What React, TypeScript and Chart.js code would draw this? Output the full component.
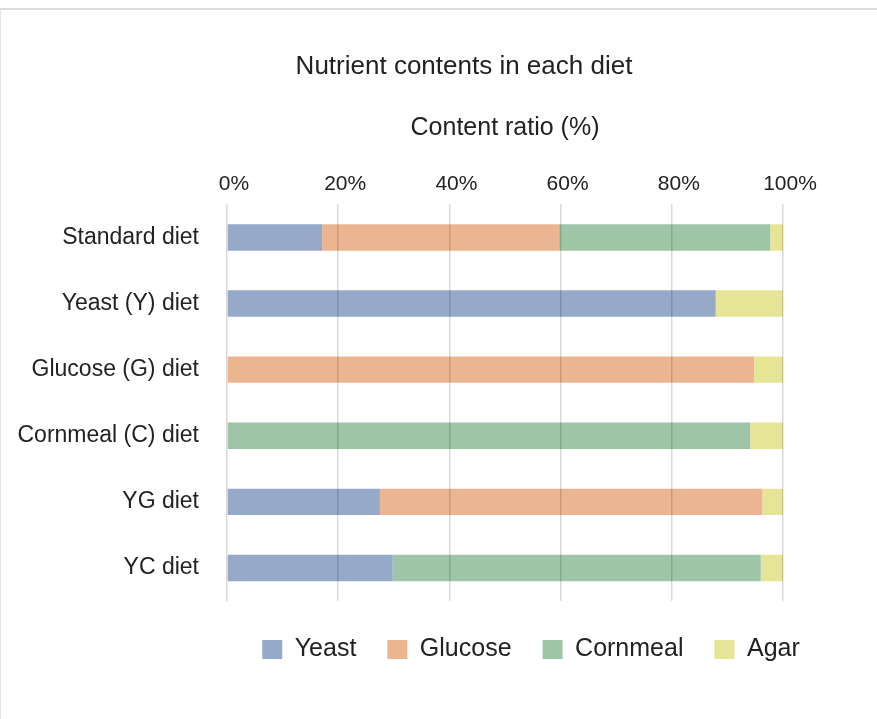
import React, { useEffect, useRef } from "react";
import { Chart, registerables } from "chart.js";

Chart.register(...registerables);

const categories = [
  "Standard diet",
  "Yeast (Y) diet",
  "Glucose (G) diet",
  "Cornmeal (C) diet",
  "YG diet",
  "YC diet",
];
const yeast = [17.1, 87.9, 0, 0, 27.5, 29.8];
const glucose = [42.6, 0, 94.8, 0, 68.8, 0];
const cornmeal = [38.0, 0, 0, 94.1, 0, 66.2];
const agar = [2.3, 12.1, 5.2, 5.9, 3.7, 4.0];
const xTicks = [0, 20, 40, 60, 80, 100];

const FONT = "Arial, 'Liberation Sans', sans-serif";
const TITLE_DX = 72;
const LEGEND_DX = 139;
const LEGEND_DY = 5;

const shiftPlugin = {
  id: "shiftBlocks",
  afterLayout(chart: any) {
    const t = chart.titleBlock;
    if (t) {
      t.left += TITLE_DX;
      t.right += TITLE_DX;
    }
    const l = chart.legend;
    if (l) {
      l.left += LEGEND_DX;
      l.right += LEGEND_DX;
      l.top += LEGEND_DY;
      l.bottom += LEGEND_DY;
    }
  },
};

export default function App() {
  const ref = useRef<HTMLCanvasElement | null>(null);
  useEffect(() => {
    document.body.style.margin = "0";
    if (!ref.current) return;
    const chart = new Chart(ref.current, {
      type: "bar",
      data: {
        labels: categories,
        datasets: [
          { label: "Yeast", data: yeast, backgroundColor: "#97a9c9" },
          { label: "Glucose", data: glucose, backgroundColor: "#ecb592" },
          { label: "Cornmeal", data: cornmeal, backgroundColor: "#9fc5a9" },
          { label: "Agar", data: agar, backgroundColor: "#e6e596" },
        ],
      },
      plugins: [shiftPlugin],
      options: {
        indexAxis: "y",
        animation: false,
        responsive: true,
        maintainAspectRatio: false,
        layout: { padding: { left: 0, right: 94, top: 0, bottom: 52 } },
        datasets: {
          bar: { barPercentage: 0.4, categoryPercentage: 1 },
        },
        plugins: {
          title: {
            display: true,
            text: "Nutrient contents in each diet",
            color: "#222",
            font: { family: FONT, size: 26, weight: "normal" },
            padding: { top: 41, bottom: 31 },
          },
          legend: {
            display: true,
            position: "bottom",
            labels: {
              color: "#222",
              font: { family: FONT, size: 25 },
              boxWidth: 20,
              boxHeight: 19,
              padding: 31,
            },
          },
          tooltip: { enabled: false },
        },
        scales: {
          x: {
            position: "top",
            stacked: true,
            min: 0,
            max: 100,
            afterBuildTicks: (scale: any) => {
              scale.ticks = xTicks.map((v) => ({ value: v }));
            },
            border: { display: false },
            grid: {
              color: "rgba(0,0,0,0.15)",
              lineWidth: 1.5,
              drawTicks: false,
              z: 1,
            },
            ticks: {
              color: "#222",
              padding: 8,
              labelOffset: 7,
              font: { family: FONT, size: 21 },
              callback: (v: any) => `${v}%`,
            },
            title: {
              display: true,
              text: "Content ratio (%)",
              color: "#222",
              font: { family: FONT, size: 25 },
              padding: { top: 0, bottom: 20 },
            },
          },
          y: {
            stacked: true,
            border: { display: false },
            grid: { display: false, drawTicks: false },
            afterFit: (scale: any) => {
              scale.width = 226;
            },
            ticks: {
              color: "#222",
              padding: 28,
              font: { family: FONT, size: 23 },
            },
          },
        },
      },
    });
    return () => chart.destroy();
  }, []);
  return (
    <div
      style={{
        marginTop: 8,
        borderTop: "2px solid #dcdcdc",
        borderLeft: "1px solid #e2e2e2",
        width: 876,
        height: 709,
        position: "relative",
        background: "#fff",
      }}
    >
      <canvas ref={ref} />
    </div>
  );
}
